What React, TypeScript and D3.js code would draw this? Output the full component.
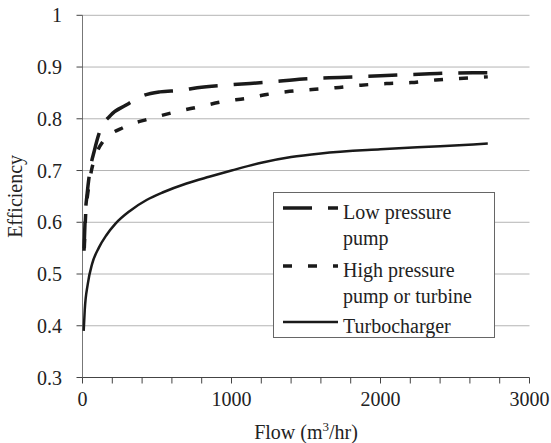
import React from 'react'
import * as d3 from 'd3'

// Low pressure pump curve [flow, efficiency]
const lowPressure: [number, number][] = [
  [10, 0.545], [20, 0.62], [30, 0.652], [50, 0.70], [80, 0.739], [115, 0.775],
  [190, 0.807], [290, 0.826], [410, 0.845], [520, 0.852], [660, 0.855], [770, 0.86],
  [1010, 0.866], [1250, 0.871], [1480, 0.877], [1725, 0.88], [2000, 0.883],
  [2330, 0.887], [2620, 0.889], [2720, 0.889]
]

// High pressure pump or turbine curve
const highPressure: [number, number][] = [
  [12, 0.55], [22, 0.62], [35, 0.655], [60, 0.70], [90, 0.73], [135, 0.755],
  [280, 0.784], [450, 0.80], [620, 0.813], [780, 0.823], [940, 0.833], [1110, 0.84],
  [1235, 0.847], [1390, 0.853], [1560, 0.857], [1700, 0.86], [1870, 0.865],
  [2040, 0.868], [2205, 0.87], [2370, 0.875], [2530, 0.878], [2720, 0.881]
]

// Turbocharger curve
const turbo: [number, number][] = [
  [8, 0.39], [15, 0.43], [35, 0.48], [65, 0.52], [110, 0.551], [160, 0.575],
  [220, 0.597], [318, 0.622], [430, 0.643], [541, 0.658], [698, 0.675], [850, 0.688],
  [1000, 0.70], [1200, 0.715], [1400, 0.726], [1600, 0.733], [2000, 0.741],
  [2400, 0.747], [2720, 0.752]
]

const yTicks = [0.3, 0.4, 0.5, 0.6, 0.7, 0.8, 0.9, 1]
const xMajor = [0, 1000, 2000, 3000]
const xMinor = d3.range(0, 3001, 200)

const legendItems = [
  { lines: ['Low pressure', 'pump'], dash: '29 16', width: 3.5 },
  { lines: ['High pressure', 'pump or turbine'], dash: '9 16', width: 3.5 },
  { lines: ['Turbocharger'], dash: undefined, width: 2.5 }
]

const FONT = 'Liberation Serif'

const App = () => {
  const x = d3.scaleLinear().domain([0, 3000]).range([82.5, 529.5])
  const y = d3.scaleLinear().domain([0.3, 1]).range([377.5, 15.3])

  const line = d3.line<[number, number]>()
    .x(d => x(d[0]))
    .y(d => y(d[1]))
    .curve(d3.curveMonotoneX)

  const series = [lowPressure, highPressure, turbo]
  const rows = [208, 266, 322]

  return (
    <svg
      width={551}
      height={443}
      fontFamily={FONT}
      fontSize={20}
      fill="#222"
      style={{ position: 'absolute', left: 0, top: 0, background: '#fff' }}
    >
      {/* gridlines */}
      {yTicks.slice(1).map(t => (
        <line key={t} x1={x(0)} x2={x(3000)} y1={y(t)} y2={y(t)} stroke="#b4b4b4" />
      ))}

      {/* y axis */}
      <line x1={x(0)} x2={x(0)} y1={y(1)} y2={y(0.3)} stroke="#777" />
      {yTicks.map(t => (
        <g key={t}>
          <line x1={x(0) - 6} x2={x(0)} y1={y(t)} y2={y(t)} stroke="#444" />
          <text x={62} y={y(t) + 7} textAnchor="end" fontFamily={FONT} fontSize={20}>
            {d3.format('~g')(t)}
          </text>
        </g>
      ))}

      {/* x axis */}
      <line x1={x(0)} x2={x(3000)} y1={y(0.3)} y2={y(0.3)} stroke="#444" />
      {xMinor.map(t => (
        <line key={t} x1={x(t)} x2={x(t)} y1={y(0.3)} y2={y(0.3) + 6} stroke="#444" />
      ))}
      {xMajor.map(t => (
        <text key={t} x={x(t)} y={406} textAnchor="middle" fontFamily={FONT} fontSize={20}>{t}</text>
      ))}

      {/* axis titles */}
      <text x={(x(0) + x(3000)) / 2} y={439} textAnchor="middle" fontFamily={FONT} fontSize={20}>
        <tspan>Flow (m</tspan>
        <tspan fontSize={13} dy={-8}>3</tspan>
        <tspan dy={8}>/hr)</tspan>
      </text>
      <text
        transform={`translate(22,${(y(0.3) + y(1)) / 2}) rotate(-90)`}
        textAnchor="middle"
        fontFamily={FONT}
        fontSize={20}
      >
        Efficiency
      </text>

      {/* curves */}
      {series.map((s, i) => (
        <path
          key={i}
          d={line(s) || ''}
          fill="none"
          stroke="#1a1a1a"
          strokeWidth={legendItems[i].width}
          strokeDasharray={legendItems[i].dash}
        />
      ))}

      {/* legend */}
      <rect x={273.5} y={192.5} width={221} height={145} fill="#fff" stroke="#666" />
      {legendItems.map((item, i) => (
        <g key={i}>
          <line
            x1={283} x2={338} y1={rows[i]} y2={rows[i]}
            stroke="#1a1a1a"
            strokeWidth={item.width}
            strokeDasharray={item.dash}
          />
          {item.lines.map((t, j) => (
            <text key={j} x={343} y={rows[i] + 11 + j * 26} fontFamily={FONT} fontSize={20}>{t}</text>
          ))}
        </g>
      ))}
    </svg>
  )
}

export default App
